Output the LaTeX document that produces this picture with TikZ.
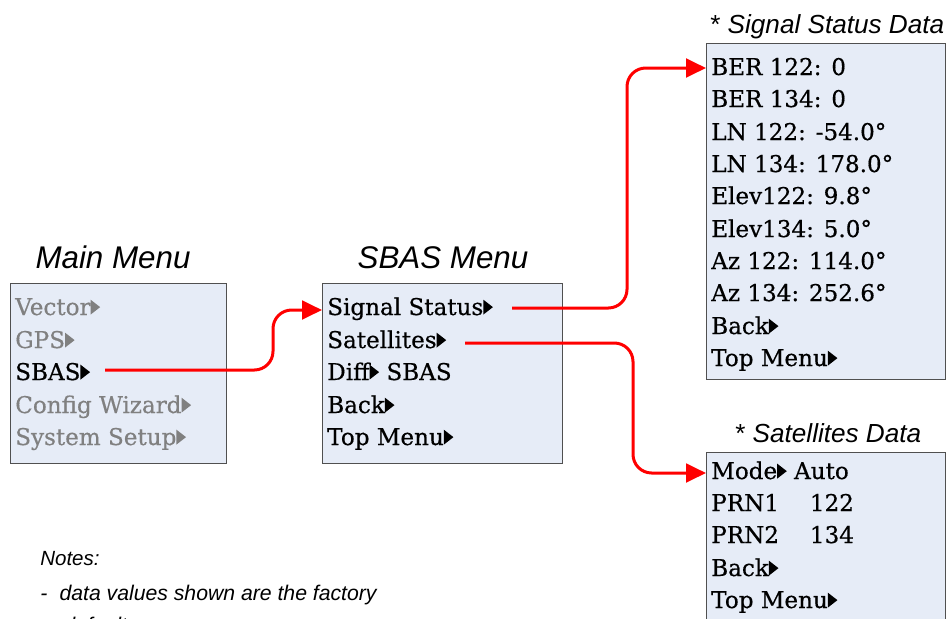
\documentclass[tikz,border=0pt]{standalone}
\usepackage{fontspec}
\setmainfont{DejaVu Serif}
\newfontfamily\menufont[FakeBold=0.5]{DejaVu Serif}
\newfontfamily\labelfont{Liberation Sans}
\usetikzlibrary{arrows.meta}
\definecolor{menufill}{RGB}{230,236,247}
\definecolor{menuedge}{RGB}{80,80,80}
\definecolor{dimtext}{RGB}{128,128,128}
% small filled pointer that follows a menu entry
\newcommand\mtri[1][black]{\tikz[baseline=0pt]\fill[#1] (0.6pt,0.3pt)--(0.6pt,11.5pt)--(7.8pt,5.9pt)--cycle;}
\tikzset{
  menubox/.style={draw=menuedge, fill=menufill, line width=0.75pt, inner sep=0pt, anchor=north west},
  item/.style={anchor=base west, inner sep=0pt, font=\menufont\fontsize{17.3}{20}\selectfont},
  dim/.style={item, text=dimtext},
  menutitle/.style={anchor=base, inner sep=0pt, font=\labelfont\itshape\fontsize{23.5}{26}\selectfont},
  datatitle/.style={anchor=base west, inner sep=0pt, font=\labelfont\itshape\fontsize{19.6}{22}\selectfont},
  note/.style={anchor=base west, inner sep=0pt, font=\labelfont\itshape\fontsize{15.4}{18}\selectfont},
  notetext/.style={note, font=\labelfont\itshape\fontsize{15.9}{18}\selectfont},
  conn/.style={draw=red, line width=2.25pt, rounded corners=14pt, -{Triangle[length=15pt,width=14pt]}}
}
\begin{document}
\begin{tikzpicture}[x=0.75pt, y=-0.75pt]
\useasboundingbox (0,0) rectangle (948,618);
\clip (0,0) rectangle (948,618);

% ---- Main Menu ----
\node[menutitle] (maintitle) at (113,268) {Main Menu};
\node[menubox, minimum width=162pt, minimum height=135pt] (mainbox) at (10,283) {};
\node[dim]  (mvec) at (15,315) {Vector\mtri[dimtext]};
\node[dim]  (mgps) at (15,348) {GPS\mtri[dimtext]};
\node[item] (msbas) at (15,380) {SBAS\mtri};
\node[dim]  (mcfg) at (15,413) {Config Wizard\mtri[dimtext]};
\node[dim]  (msys) at (15,445) {System Setup\mtri[dimtext]};

% ---- SBAS Menu ----
\node[menutitle] (sbastitle) at (443,268) {SBAS Menu};
\node[menubox, minimum width=180pt, minimum height=135pt] (sbasbox) at (322,283) {};
\node[item] (ssig) at (327,315) {Signal Status\mtri};
\node[item] (ssat) at (327,348) {Satellites\mtri};
\node[item] (sdiff) at (327,380) {Diff\mtri\ SBAS};
\node[item] (sback) at (327,413) {Back\mtri};
\node[item] (stop) at (327,445) {Top Menu\mtri};

% ---- Signal Status Data ----
\node[datatitle] (sigtitle) at (710,33) {{\upshape *} Signal Status Data};
\node[menubox, minimum width=179.25pt, minimum height=252pt] (sigbox) at (706,43) {};
\node[item] (g1) at (711,75) {BER 122: 0};
\node[item] (g2) at (711,107) {BER 134: 0};
\node[item] (g3) at (711,140) {LN 122: -54.0°};
\node[item] (g4) at (711,172) {LN 134: 178.0°};
\node[item] (g5) at (711,204) {Elev122: 9.8°};
\node[item] (g6) at (711,237) {Elev134: 5.0°};
\node[item] (g7) at (711,269) {Az 122: 114.0°};
\node[item] (g8) at (711,301) {Az 134: 252.6°};
\node[item] (g9) at (711,334) {Back\mtri};
\node[item] (g10) at (711,366) {Top Menu\mtri};

% ---- Satellites Data ----
\node[datatitle] (sattitle) at (735,442) {{\upshape *} Satellites Data};
\node[menubox, minimum width=179.25pt, minimum height=150pt] (satbox) at (706,452) {};
\node[item] (t1) at (711,479) {Mode\mtri\ Auto};
\node[item] (t2) at (711,511) {\makebox[74pt][l]{PRN1}122};
\node[item] (t3) at (711,543) {\makebox[74pt][l]{PRN2}134};
\node[item] (t4) at (711,576) {Back\mtri};
\node[item] (t5) at (711,608) {Top Menu\mtri};

% ---- Notes ----
\node[note] (notehead) at (40,565) {Notes:};
\node[notetext] (noteone) at (40,600) {\makebox[14.5pt][l]{-}data values shown are the factory};
\node[notetext] (notetwo) at (63,632) {defaults};

% ---- connectors: out along the row, one bend column, into the next box ----
\coordinate (a1s) at (105,370);
\coordinate (a1e) at (sbasbox.west |- 0,310);
\coordinate (a1k) at (273,310);
\draw[conn] (a1s) -| (a1k) -- (a1e);

\coordinate (a2s) at (512,308);
\coordinate (a2e) at (sigbox.west |- 0,68);
\coordinate (a2k) at (627,68);
\draw[conn] (a2s) -| (a2k) -- (a2e);

\coordinate (a3s) at (465,343);
\coordinate (a3e) at (satbox.west |- 0,473);
\coordinate (a3k) at (633,473);
\draw[conn] (a3s) -| (a3k) -- (a3e);
\end{tikzpicture}
\end{document}
